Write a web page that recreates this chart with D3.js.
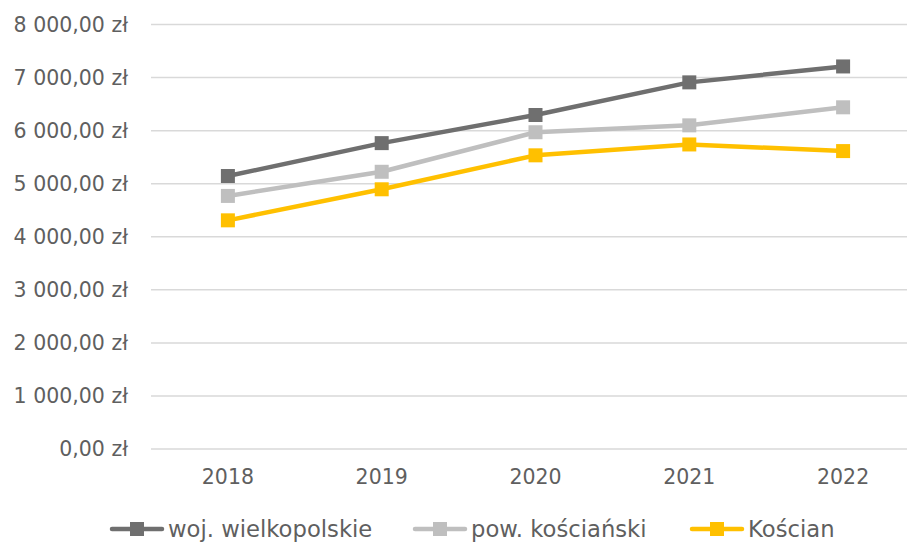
<!DOCTYPE html>
<html><head><meta charset="utf-8">
<script src="https://cdn.jsdelivr.net/npm/d3@7/dist/d3.min.js"></script>
<style>body{margin:0;background:#fff}svg{display:block}text{font-family:"DejaVu Sans",sans-serif;fill:#595959}</style>
</head><body><svg id="c" width="907" height="544"></svg>
<script>
const years = ["2018","2019","2020","2021","2022"];
const seriesNames = ["woj. wielkopolskie","pow. kościański","Kościan"];
const wojValues = [5135, 5755, 6285, 6900, 7200];
const powValues = [4760, 5215, 5960, 6090, 6430];
const koscianValues = [4300, 4885, 5525, 5730, 5605];
const yTicks = [0,1000,2000,3000,4000,5000,6000,7000,8000];
const colors = ["#6f6f6f","#bfbfbf","#ffc000"];

(function(){
const svg = d3.select("#c");
const mLeft = 151, mRight = 920, mTop = 24, mBottom = 448.5;
const x = d3.scaleBand().domain(years).range([mLeft, mRight]);
const y = d3.scaleLinear().domain([0, 8000]).range([mBottom, mTop]);
const fmt = v => d3.format(",.2f")(v).replace(/,/g," ").replace(".",",") + " zł";

const ga = svg.append("g").attr("transform",`translate(${mLeft},0)`)
  .call(d3.axisLeft(y).tickValues(yTicks).tickFormat(fmt).tickSize(-(mRight-mLeft)).tickPadding(23));
ga.select(".domain").remove();
ga.selectAll(".tick line").attr("stroke","#d9d9d9").attr("stroke-width",1.5);
ga.selectAll(".tick text").attr("font-size",20.5).style("fill","#5f5f5f").attr("dy","0.35em").attr("x",-23);

const gx = svg.append("g").attr("transform",`translate(0,${mBottom})`)
  .call(d3.axisBottom(x).tickSize(0).tickPadding(21));
gx.select(".domain").remove();
gx.selectAll(".tick text").attr("font-size",20.5).style("fill","#5f5f5f").attr("dy","0.7em");

const data = [wojValues, powValues, koscianValues];
const line = d3.line().x((d,i)=>x(years[i])+x.bandwidth()/2).y(d=>y(d));
data.forEach((vals,k)=>{
  svg.append("path").attr("d",line(vals)).attr("fill","none").attr("stroke",colors[k]).attr("stroke-width",4.5).attr("stroke-linejoin","round");
  svg.selectAll(null).data(vals).enter().append("rect")
    .attr("x",(d,i)=>x(years[i])+x.bandwidth()/2-7).attr("y",d=>y(d)-7)
    .attr("width",14).attr("height",14).attr("fill",colors[k]);
});

const legX = [110, 413, 690];
const ly = 529;
seriesNames.forEach((n,k)=>{
  const g = svg.append("g");
  g.append("line").attr("x1",legX[k]+2).attr("x2",legX[k]+52).attr("y1",ly).attr("y2",ly).attr("stroke",colors[k]).attr("stroke-width",4.5).attr("stroke-linecap","round");
  g.append("rect").attr("x",legX[k]+27-7).attr("y",ly-7).attr("width",14).attr("height",14).attr("fill",colors[k]);
  g.append("text").attr("x",legX[k]+58).attr("y",ly).attr("dy","0.35em").attr("font-size",22.7).style("fill","#5f5f5f").text(n);
});
})();
</script></body></html>
